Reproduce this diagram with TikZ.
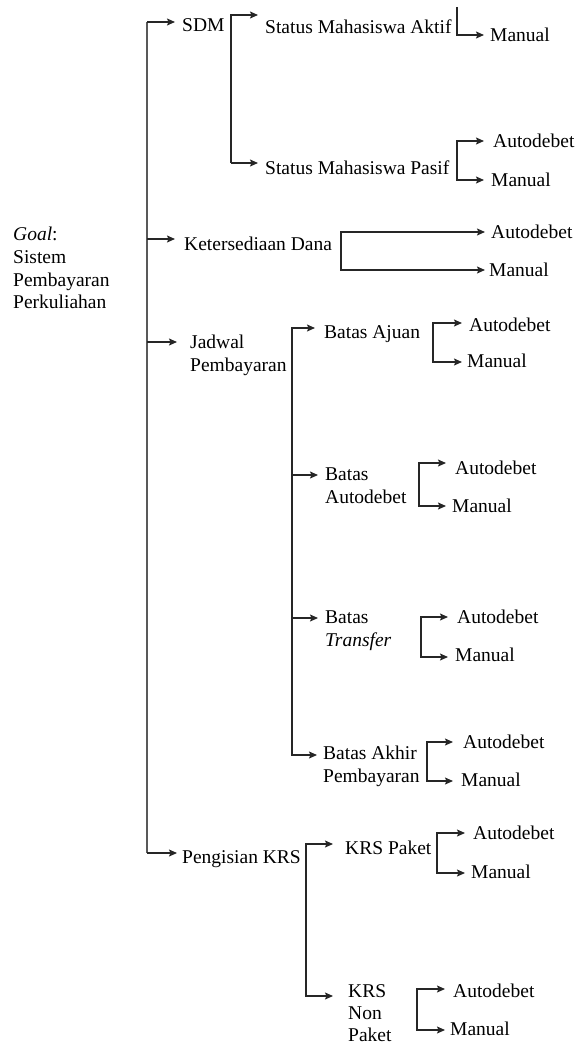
\documentclass[tikz,border=0pt]{standalone}
\usepackage{fontspec}
\setmainfont{Liberation Serif}
\usetikzlibrary{arrows.meta}
\begin{document}
\begin{tikzpicture}[x=1pt,y=-1pt,
  lbl/.style={anchor=north west, inner ysep=0pt, inner xsep=6pt, align=left, font=\fontsize{19.5}{22.7}\selectfont},
  ln/.style={line width=1.3pt, black!85, line join=miter},
  trunk/.style={line width=1.6pt, black!65},
  arr/.style={ln, -{Stealth[length=8pt,width=7pt,inset=1.5pt]}},
]
\useasboundingbox (0,0) rectangle (577,1046);
% nodes
\node[lbl, inner xsep=0pt] (goal) at (13,227) {\textit{Goal}:\\Sistem\\Pembayaran\\Perkuliahan};
\node[lbl, inner xsep=7pt] (sdm) at (175,18) {SDM};
\node[lbl, inner xsep=7pt] (aktif) at (258,20) {Status Mahasiswa Aktif};
\node[lbl, inner xsep=6pt] (aktifM) at (484,28) {Manual};
\node[lbl, inner xsep=7pt] (pasif) at (258,161) {Status Mahasiswa Pasif};
\node[lbl, inner xsep=9pt] (pasifA) at (484,134) {Autodebet};
\node[lbl, inner xsep=7pt] (pasifM) at (484,173) {Manual};
\node[lbl, inner xsep=9pt] (ket) at (175,237) {Ketersediaan Dana};
\node[lbl, inner xsep=6pt] (ketA) at (485,225) {Autodebet};
\node[lbl, inner xsep=4pt] (ketM) at (485,263) {Manual};
\node[lbl, inner xsep=13pt] (jad) at (177,335) {Jadwal\\Pembayaran};
\node[lbl, inner xsep=9pt] (ajuan) at (315,325) {Batas Ajuan};
\node[lbl, inner xsep=7pt] (ajuanA) at (462,318) {Autodebet};
\node[lbl, inner xsep=5pt] (ajuanM) at (462,354) {Manual};
\node[lbl, inner xsep=7pt] (bauto) at (318,468) {Batas\\Autodebet};
\node[lbl, inner xsep=9pt] (bautoA) at (446,461) {Autodebet};
\node[lbl, inner xsep=6pt] (bautoM) at (446,499) {Manual};
\node[lbl, inner xsep=7pt] (btrans) at (318,611) {Batas\\\textit{Transfer}};
\node[lbl, inner xsep=9pt] (btransA) at (448,610) {Autodebet};
\node[lbl, inner xsep=7pt] (btransM) at (448,648) {Manual};
\node[lbl, inner xsep=6pt] (bakhir) at (317,746) {Batas Akhir\\Pembayaran};
\node[lbl, inner xsep=10pt] (bakhirA) at (453,735) {Autodebet};
\node[lbl, inner xsep=8pt] (bakhirM) at (453,773) {Manual};
\node[lbl, inner xsep=5pt] (peng) at (177,850) {Pengisian KRS};
\node[lbl, inner xsep=12pt] (kp) at (333,841) {KRS Paket};
\node[lbl, inner xsep=8pt] (kpA) at (465,826) {Autodebet};
\node[lbl, inner xsep=6pt] (kpM) at (465,865) {Manual};
\node[lbl, inner xsep=15pt, font=\fontsize{19.5}{22}\selectfont] (knp) at (333,984) {KRS\\Non\\Paket};
\node[lbl, inner xsep=8pt] (knpA) at (445,984) {Autodebet};
\node[lbl, inner xsep=5pt] (knpM) at (445,1022) {Manual};
% trunk
\coordinate (T1) at (147,22);
\coordinate (T2) at (147,239);
\coordinate (T3) at (147,342);
\coordinate (T4) at (147,853);
\draw[trunk] (T1) -- (T4);
\draw[arr] (T1) -- (sdm.west |- T1);
\draw[arr] (T2) -- (ket.west |- T2);
\draw[arr] (T3) -- (jad.west |- T3);
\draw[arr] (T4) -- (peng.west |- T4);
% SDM
\coordinate (S1) at (231,15);
\coordinate (S2) at (231,163);
\draw[arr] (S2) -- (S1) -- (aktif.west |- S1);
\draw[arr] (S2) -- (pasif.west |- S2);
\coordinate (A1) at (457,7);
\coordinate (A2) at (457,35);
\draw[arr] (A1) -- (A2) -- (aktifM.west |- A2);
\coordinate (P1) at (457,141);
\coordinate (P2) at (457,180);
\draw[arr] (P2) -- (P1) -- (pasifA.west |- P1);
\draw[arr] (P1) -- (P2) -- (pasifM.west |- P2);
% Ketersediaan
\coordinate (K1) at (341,232);
\coordinate (K2) at (341,270);
\draw[arr] (K2) -- (K1) -- (ketA.west |- K1);
\draw[arr] (K1) -- (K2) -- (ketM.west |- K2);
% Jadwal
\coordinate (J1) at (292,328);
\coordinate (J2) at (292,475);
\coordinate (J3) at (292,618);
\coordinate (J4) at (292,755);
\draw[arr] (J4) -- (J1) -- (ajuan.west |- J1);
\draw[arr] (J2) -- (bauto.west |- J2);
\draw[arr] (J3) -- (btrans.west |- J3);
\draw[arr] (J1) -- (J4) -- (bakhir.west |- J4);
\coordinate (AJ1) at (433,323);
\coordinate (AJ2) at (433,362);
\draw[arr] (AJ2) -- (AJ1) -- (ajuanA.west |- AJ1);
\draw[arr] (AJ1) -- (AJ2) -- (ajuanM.west |- AJ2);
\coordinate (BA1) at (419,463);
\coordinate (BA2) at (419,506);
\draw[arr] (BA2) -- (BA1) -- (bautoA.west |- BA1);
\draw[arr] (BA1) -- (BA2) -- (bautoM.west |- BA2);
\coordinate (BT1) at (421,617);
\coordinate (BT2) at (421,657);
\draw[arr] (BT2) -- (BT1) -- (btransA.west |- BT1);
\draw[arr] (BT1) -- (BT2) -- (btransM.west |- BT2);
\coordinate (BK1) at (427,742);
\coordinate (BK2) at (427,781);
\draw[arr] (BK2) -- (BK1) -- (bakhirA.west |- BK1);
\draw[arr] (BK1) -- (BK2) -- (bakhirM.west |- BK2);
% Pengisian KRS
\coordinate (G1) at (306,844);
\coordinate (G2) at (306,996);
\draw[arr] (G2) -- (G1) -- (kp.west |- G1);
\draw[arr] (G1) -- (G2) -- (knp.west |- G2);
\coordinate (KP1) at (437,833);
\coordinate (KP2) at (437,873);
\draw[arr] (KP2) -- (KP1) -- (kpA.west |- KP1);
\draw[arr] (KP1) -- (KP2) -- (kpM.west |- KP2);
\coordinate (KN1) at (417,989);
\coordinate (KN2) at (417,1030);
\draw[arr] (KN2) -- (KN1) -- (knpA.west |- KN1);
\draw[arr] (KN1) -- (KN2) -- (knpM.west |- KN2);
\end{tikzpicture}
\end{document}
